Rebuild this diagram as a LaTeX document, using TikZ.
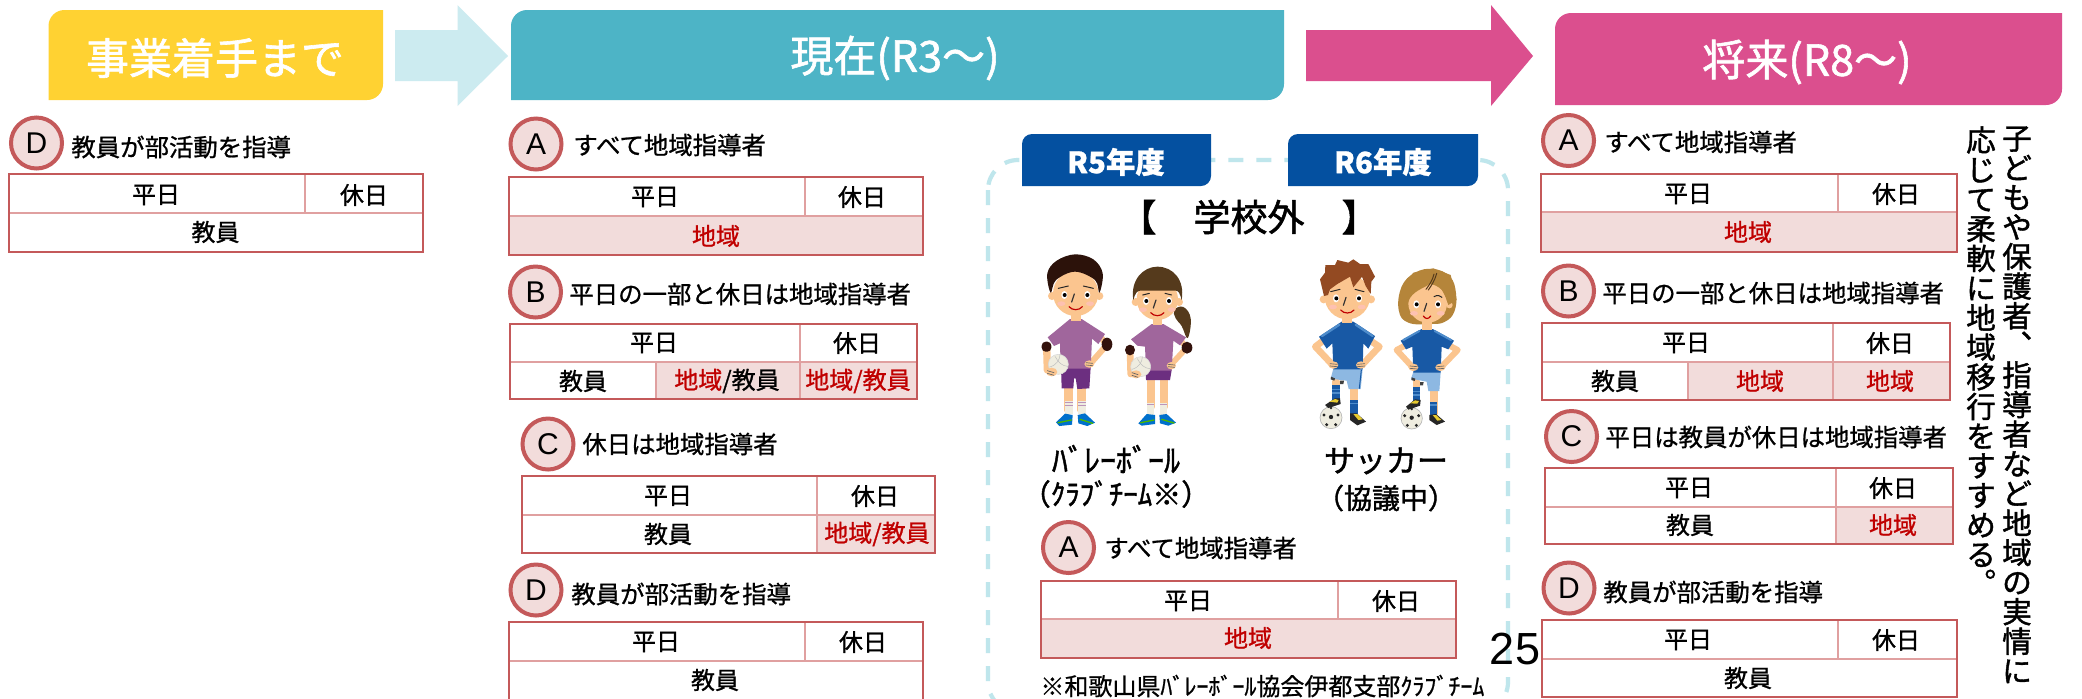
\documentclass[tikz,border=0pt]{standalone}
\usepackage{fontspec}
\usetikzlibrary{shapes.geometric}
\setmainfont[FakeBold=0.9]{Noto Sans CJK JP}
\newfontfamily\cjkm[FakeBold=1.4]{Noto Sans CJK JP}
\newfontfamily\arialf{Liberation Sans}
\definecolor{yel}{HTML}{FFD232}
\definecolor{teal1}{HTML}{4DB4C6}
\definecolor{pink1}{HTML}{DB4F8E}
\definecolor{ltblue}{HTML}{CCEBF0}
\definecolor{navy1}{HTML}{0450A0}
\definecolor{bord}{HTML}{C4595A}
\definecolor{inner1}{HTML}{E0A0A0}
\definecolor{cellf}{HTML}{F2DCDB}
\definecolor{redt}{HTML}{C00000}
\definecolor{skin}{HTML}{FBC58F}
\definecolor{purp}{HTML}{A0669C}
\definecolor{purpd}{HTML}{6C2F80}
\definecolor{padc}{HTML}{33120C}
\definecolor{hairb}{HTML}{2C120A}
\definecolor{hairg}{HTML}{553A1C}
\definecolor{hairr}{HTML}{934A22}
\definecolor{hairy}{HTML}{B5853A}
\definecolor{blues}{HTML}{1859A5}
\definecolor{bluel}{HTML}{8DB8E2}
\definecolor{bluem}{HTML}{4E8CCB}
\definecolor{ballc}{HTML}{EFEDE0}
\newcommand\fs[1]{\fontsize{#1}{#1}\selectfont}
\tikzset{
  badge/.style={ellipse,draw=bord,fill=cellf,line width=2pt,inner sep=0pt,minimum width=25.5pt,minimum height=25.5pt,font=\arialf\fs{15}},
  lab/.style={anchor=west,inner sep=0pt,font=\fs{12.2}},
  celltx/.style={inner sep=0pt,font=\fs{12}},
  redtx/.style={celltx,text=redt},
  innerl/.style={draw=inner1,line width=1pt},
  outerl/.style={draw=bord,line width=1.3pt},
  head/.style={inner sep=0pt,text=white,font=\cjkm\fs{21.5}},
  tabt/.style={inner sep=0pt,text=white,font=\bfseries\fs{14.7}},
  kw/.style={line width=#1*0.1667pt,line cap=round,line join=round},
  vtext/.style={anchor=north,inner sep=0pt,align=center,font=\cjkm\fs{14.8}},
  kidscope/.style={x=0.16667pt,y=-0.16667pt}
}
% one-corner rounded header box
\newcommand\tabrect[6]{\fill[#5] (#1,#4) [rounded corners=#6] -- (#1,#2) [sharp corners] -- (#3,#2) [rounded corners=#6] -- (#3,#4) [sharp corners] -- cycle;}
\newcommand\tblframe[6]{%
  \draw[innerl] (#1,#5) -- (#3,#5);
  \draw[innerl] (#6,#2) -- (#6,#5);
  \draw[outerl] (#1,#2) rectangle (#3,#4);}
% face: cx cy r, eye offset
\newcommand\kidface[3]{%
  \fill[skin] (#1-#3-3,#2+8) circle[radius=12];
  \fill[skin] (#1+#3+3,#2+8) circle[radius=12];
  \fill[skin] (#1,#2) circle[radius=#3];
  \fill[white] (#1-34,#2+5) ellipse[x radius=9,y radius=12];
  \fill[white] (#1+35,#2+5) ellipse[x radius=9,y radius=12];
  \fill[black] (#1-33,#2+5) circle[radius=6];
  \fill[black] (#1+35,#2+5) circle[radius=6];
  \fill[pink!70!skin] (#1-43,#2+31) ellipse[x radius=12,y radius=7];
  \fill[pink!70!skin] (#1+43,#2+31) ellipse[x radius=12,y radius=7];
  \draw[kw=3.5,black!80] (#1-4,#2+2) -- (#1-12,#2+26);
  \draw[kw=3.5,red!75!black] (#1-20,#2+40) .. controls (#1-10,#2+52) and (#1+10,#2+52) .. (#1+20,#2+40);
}
\newcommand\vball[3]{%
  \fill[ballc,draw=black!15,line width=.3pt] (#1,#2) circle[radius=#3];
  \draw[kw=1.5,black!25] (#1-#3+4,#2+8) .. controls (#1-5,#2+2) and (#1+5,#2-14) .. (#1+5,#2-#3);
  \draw[kw=1.5,black!25] (#1-10,#2-#3+6) .. controls (#1+0,#2-5) and (#1+12,#2+5) .. (#1+#3-2,#2+6);
}
\newcommand\sball[3]{%
  \fill[ballc,draw=black!30,line width=.3pt] (#1,#2) circle[radius=#3];
  \fill[black!85] (#1,#2-2) circle[radius=6.5];
  \fill[black!85] (#1-21,#2-8) circle[radius=5];
  \fill[black!85] (#1+21,#2-8) circle[radius=5];
  \fill[black!85] (#1-13,#2+21) circle[radius=5];
  \fill[black!85] (#1+14,#2+21) circle[radius=5];
  \fill[black!85] (#1,#2-#3+4) circle[radius=4];
}
\begin{document}
\begin{tikzpicture}[x=0.5pt,y=-0.5pt]
\useasboundingbox (0,0) rectangle (2082,698);
\clip (0,0) rectangle (2082,698);
\fill[white] (0,0) rectangle (2082,698);

% headers
\tabrect{48.5}{10}{383}{100}{yel}{8pt}
\node[head] (h1) at (215,58) {事業着手まで};
\fill[ltblue] (395,30) -- (457.5,30) -- (457.5,5) -- (508,56) -- (457.5,106) -- (457.5,81) -- (395,81) -- cycle;
\tabrect{511}{10}{1284}{100}{teal1}{8pt}
\node[head] (h2) at (895,58) {現在(R3～)};
\fill[pink1] (1306,30) -- (1491,30) -- (1491,5) -- (1533,56) -- (1491,106) -- (1491,81) -- (1306,81) -- cycle;
\tabrect{1555}{13}{2062}{105}{pink1}{8pt}
\node[head] (h3) at (1807,62) {将来(R8～)};

% left D
\node[badge] (d0) at (36.5,143) {D};
\node[lab] (d0t) at (71,147) {教員が部活動を指導};
\tblframe{9}{174}{423}{252}{213}{305}
\node[celltx] (d0a) at (156,195) {平日};
\node[celltx] (d0b) at (364,195) {休日};
\node[celltx] (d0c) at (215.5,232) {教員};

% centre A
\node[badge] (a1) at (536,144) {A};
\node[lab] (a1t) at (573,145) {すべて地域指導者};
\fill[cellf] (509,216) rectangle (923,255);
\tblframe{509}{177}{923}{255}{216}{805}
\node[celltx] (a1a) at (655,197) {平日};
\node[celltx] (a1b) at (862,197) {休日};
\node[redtx] (a1c) at (716,236) {地域};

% centre B
\node[badge] (b1) at (535.5,292) {B};
\node[lab] (b1t) at (569,294) {平日の一部と休日は地域指導者};
\fill[cellf] (656,362) rectangle (917,399);
\draw[innerl] (656,362) -- (656,399);
\draw[innerl] (800,362) -- (800,399);
\tblframe{510}{324}{917}{399}{362}{800}
\node[celltx] (b1a) at (654,343) {平日};
\node[celltx] (b1b) at (857,343) {休日};
\node[celltx] (b1c) at (583,381) {教員};
\node[celltx] (b1d) at (727,381) {\textcolor{redt}{地域}/教員};
\node[redtx] (b1e) at (858,381) {地域/教員};

% centre C
\node[badge] (c1) at (548,444) {C};
\node[lab] (c1t) at (582,444) {休日は地域指導者};
\fill[cellf] (817,515) rectangle (935,553);
\draw[innerl] (817,515) -- (817,553);
\tblframe{522}{476}{935}{553}{515}{817}
\node[celltx] (c1a) at (668,496) {平日};
\node[celltx] (c1b) at (875,496) {休日};
\node[celltx] (c1c) at (668,534) {教員};
\node[redtx] (c1d) at (877,534) {地域/教員};

% centre D
\node[badge] (d1) at (536,590) {D};
\node[lab] (d1t) at (571,594) {教員が部活動を指導};
\tblframe{509}{622}{923}{701}{661}{805}
\node[celltx] (d1a) at (656,642) {平日};
\node[celltx] (d1b) at (863,642) {休日};
\node[celltx] (d1c) at (715,680) {教員};

% dashed panel
\draw[draw=ltblue!90!teal1,line width=2.1pt,dash pattern=on 7.5pt off 6.5pt,rounded corners=15pt] (988,160) rectangle (1508,712);
\tabrect{1022}{134}{1211}{186}{navy1}{5pt}
\node[tabt] (r5) at (1116,162) {R5年度};
\tabrect{1288}{134}{1478}{186}{navy1}{5pt}
\node[tabt] (r6) at (1383,162) {R6年度};
\node[inner sep=0pt,font=\cjkm\fs{18.5}] (gk) at (1249,217) {【　学校外　】};

% volleyball children
\begin{scope}[shift={(1030,250)},kidscope]
  % boy
  \draw[skin,kw=26] (115,410) -- (115,480);
  \draw[skin,kw=26] (155,410) -- (155,480);
  \fill[ballc] (104,452) rectangle (128,492);
  \fill[ballc] (144,452) rectangle (168,492);
  \fill[purp!70] (104,456) rectangle (128,460); \fill[purp!70] (104,464) rectangle (128,468);
  \fill[purp!70] (144,456) rectangle (168,460); \fill[purp!70] (144,464) rectangle (168,468);
  \fill[blue!45!cyan!80!black] (78,517) -- (105,491) -- (128,495) -- (126,524) -- (88,528) -- cycle;
  \fill[blue!45!cyan!80!black] (143,495) -- (165,490) -- (195,518) -- (172,528) -- (145,520) -- cycle;
  \draw[kw=4,green!60!black!70!yellow] (84,518) -- (124,510);
  \draw[kw=4,green!60!black!70!yellow] (150,508) -- (188,520);
  \fill[purpd] (93,352) -- (182,352) -- (178,415) -- (142,417) -- (137,385) -- (132,385) -- (130,415) -- (95,415) -- cycle;
  \draw[skin,kw=22] (50,290) -- (52,360);
  \draw[skin,kw=18] (215,265) -- (230,285) -- (180,342);
  \fill[purp] (120,207) -- (155,207) -- (225,252) -- (205,282) -- (186,266) -- (182,356) -- (92,356) -- (90,280) -- (72,288) -- (53,262) -- cycle;
  \vball{85}{343}{30}
  \fill[skin] (65,366) ellipse[x radius=17,y radius=13];
  \fill[skin] (178,342) ellipse[x radius=15,y radius=11];
  \draw[kw=2,black!60] (52,362) -- (72,368) (52,370) -- (72,376);
  \draw[kw=2,black!60] (168,338) -- (188,340) (168,345) -- (188,347);
  \fill[padc,rounded corners=2pt] (35,275) rectangle (64,305);
  \fill[padc] (231,283) ellipse[x radius=16,y radius=20];
  \fill[skin] (122,190) rectangle (152,213);
  \kidface{137}{130}{68}
  \fill[hairb] plot[smooth cycle,tension=.6] coordinates {(62,128) (52,70) (80,32) (135,13) (190,28) (218,70) (208,128) (195,90) (135,65) (78,90)};
  \draw[kw=3,black!85] (85,115) -- (115,108) (160,108) -- (190,115);
  % girl
  \draw[skin,kw=24] (362,385) -- (362,470);
  \draw[skin,kw=24] (402,385) -- (402,470);
  \fill[ballc] (352,458) rectangle (373,497);
  \fill[ballc] (390,458) rectangle (412,497);
  \fill[purp!70] (352,461) rectangle (373,465); \fill[purp!70] (390,461) rectangle (412,465);
  \fill[blue!45!cyan!80!black] (325,520) -- (350,492) -- (375,495) -- (375,522) -- (335,527) -- cycle;
  \fill[blue!45!cyan!80!black] (388,495) -- (410,492) -- (438,518) -- (415,527) -- (390,520) -- cycle;
  \draw[kw=4,green!60!black!70!yellow] (332,518) -- (372,510);
  \draw[kw=4,green!60!black!70!yellow] (395,508) -- (432,519);
  \fill[purpd] (347,360) -- (425,360) -- (420,390) -- (348,390) -- cycle;
  \fill[hairg] plot[smooth cycle,tension=.7] coordinates {(433,180) (460,171) (482,205) (473,264) (455,228) (437,205)};
  \draw[skin,kw=20] (300,300) -- (302,372);
  \draw[skin,kw=17] (455,275) -- (470,293) -- (422,345);
  \fill[purp] (365,222) -- (400,222) -- (468,262) -- (450,286) -- (430,272) -- (425,362) -- (348,362) -- (345,290) -- (322,287) -- (303,268) -- cycle;
  \vball{332}{350}{30}
  \fill[skin] (318,373) ellipse[x radius=16,y radius=12];
  \fill[skin] (424,347) ellipse[x radius=14,y radius=11];
  \draw[kw=2,black!60] (306,368) -- (324,374) (306,376) -- (324,382);
  \draw[kw=2,black!60] (414,343) -- (434,345) (414,350) -- (434,352);
  \fill[padc] (300,300) ellipse[x radius=15,y radius=16];
  \fill[padc] (471,293) ellipse[x radius=16,y radius=18];
  \fill[skin] (368,205) rectangle (396,226);
  \kidface{382}{148}{62}
  \fill[hairg] (310,150) .. controls (300,90) and (340,50) .. (382,50) .. controls (430,50) and (465,90) .. (455,150) .. controls (450,130) and (445,122) .. (438,122) -- (330,122) .. controls (322,122) and (315,130) .. (310,150) -- cycle;
  \draw[kw=3,black!85] (338,135) -- (358,130) (405,130) -- (425,135);
\end{scope}

% soccer children
\begin{scope}[shift={(1300,250)},kidscope]
  % boy
  \draw[skin,kw=24] (108,395) -- (108,440);
  \draw[skin,kw=24] (162,410) -- (162,490);
  \fill[blues] (97,405) rectangle (120,450);
  \fill[bluem] (97,416) rectangle (120,421); \fill[bluem] (97,426) rectangle (120,431);
  \fill[blues] (151,450) rectangle (173,494);
  \fill[bluem] (151,458) rectangle (173,463);
  \sball{93}{503}{33}
  \fill[black!85] (75,465) -- (105,445) -- (120,445) -- (122,462) -- (85,474) -- cycle;
  \fill[yellow!60!brown] (88,455) -- (105,447) -- (116,450) -- (112,458) -- cycle;
  \fill[black!85] (150,490) -- (170,490) -- (198,515) -- (172,526) -- (150,510) -- cycle;
  \fill[yellow!60!brown] (160,492) -- (172,492) -- (188,508) -- (175,510) -- cycle;
  \fill[bluel] (100,356) -- (188,356) -- (182,417) -- (146,417) -- (140,392) -- (92,386) -- cycle;
  \draw[kw=3,blues] (184,360) -- (178,415);
  \fill[black!75] (93,380) -- (105,385) -- (103,392) -- (92,388) -- cycle;
  \fill[black!75] (120,392) -- (132,392) -- (130,402) -- (120,402) -- cycle;
  \draw[skin,kw=20,fill=none] (72,270) -- (46,290) -- (98,345);
  \draw[skin,kw=20,fill=none] (208,270) -- (238,290) -- (186,345);
  \fill[blues] (125,215) -- (160,215) -- (225,258) -- (205,296) -- (190,280) -- (188,358) -- (100,358) -- (97,280) -- (80,296) -- (57,260) -- cycle;
  \draw[kw=7,bluem] (66,258) -- (118,224) (167,224) -- (218,258);
  \fill[skin] (100,345) ellipse[x radius=15,y radius=11];
  \fill[skin] (183,345) ellipse[x radius=15,y radius=11];
  \draw[kw=2,black!60] (90,341) -- (112,343) (90,348) -- (112,350);
  \draw[kw=2,black!60] (172,343) -- (194,341) (172,350) -- (194,348);
  \fill[skin] (127,195) rectangle (157,220);
  \kidface{142}{140}{68}
  \fill[hairr] (72,138) -- (60,88) -- (75,68) -- (76,45) -- (105,45) -- (112,30) -- (145,38) -- (160,28) -- (180,42) -- (205,42) -- (225,80) -- (214,95) -- (212,132) -- (197,108) -- (186,80) -- (160,112) -- (150,80) -- (112,102) -- (90,118) -- (84,135) -- cycle;
  \draw[kw=3,black!85] (92,125) -- (120,118) (165,118) -- (192,125);
  % girl
  \draw[skin,kw=22] (350,395) -- (350,445);
  \draw[skin,kw=22] (402,415) -- (402,490);
  \fill[blues] (339,412) rectangle (360,455);
  \fill[bluem] (339,422) rectangle (360,427); \fill[bluem] (339,432) rectangle (360,437);
  \fill[blues] (391,455) rectangle (411,496);
  \fill[bluem] (391,463) rectangle (411,468);
  \sball{335}{505}{32}
  \fill[black!85] (318,470) -- (345,448) -- (362,450) -- (360,467) -- (325,479) -- cycle;
  \fill[yellow!60!brown] (330,460) -- (345,451) -- (357,453) -- (352,461) -- cycle;
  \fill[black!85] (388,495) -- (408,492) -- (435,515) -- (410,525) -- (388,510) -- cycle;
  \fill[yellow!60!brown] (398,495) -- (408,495) -- (424,510) -- (412,512) -- cycle;
  \fill[bluel] (340,365) -- (422,365) -- (418,423) -- (385,423) -- (380,395) -- (333,386) -- cycle;
  \fill[black!75] (335,382) -- (346,386) -- (344,393) -- (334,390) -- cycle;
  \fill[black!75] (360,396) -- (371,396) -- (369,406) -- (360,406) -- cycle;
  \draw[skin,kw=18] (318,285) -- (290,300) -- (338,352);
  \draw[skin,kw=18] (445,285) -- (473,300) -- (423,352);
  \fill[hairy] plot[smooth cycle,tension=.7] coordinates {(296,180) (305,110) (345,68) (400,57) (450,80) (468,130) (463,185) (435,215) (395,222) (325,218)};
  \fill[blues] (365,237) -- (398,237) -- (462,272) -- (445,298) -- (425,290) -- (422,368) -- (340,368) -- (337,290) -- (318,298) -- (302,272) -- cycle;
  \draw[kw=6,bluem] (310,270) -- (358,243) (404,243) -- (453,270);
  \fill[skin] (340,352) ellipse[x radius=15,y radius=11];
  \fill[skin] (421,352) ellipse[x radius=15,y radius=11];
  \draw[kw=2,black!60] (330,348) -- (352,350) (330,355) -- (352,357);
  \draw[kw=2,black!60] (410,350) -- (432,348) (410,357) -- (432,355);
  \fill[skin] (367,215) rectangle (395,240);
  \fill[skin] (448,165) circle[radius=10];
  \fill[skin] (383,160) circle[radius=58];
  \fill[white] (349,163) ellipse[x radius=9,y radius=12];
  \fill[white] (414,163) ellipse[x radius=9,y radius=12];
  \fill[black] (350,163) circle[radius=6];
  \fill[black] (414,163) circle[radius=6];
  \fill[pink!70!skin] (342,190) ellipse[x radius=12,y radius=7];
  \fill[pink!70!skin] (422,190) ellipse[x radius=12,y radius=7];
  \draw[kw=3.5,black!80] (380,160) -- (372,184);
  \draw[kw=3.5,red!75!black] (370,198) .. controls (376,208) and (386,208) .. (392,198);
  \draw[kw=3,black!85] (402,140) .. controls (412,134) and (420,136) .. (426,142);
  \fill[hairy] (322,175) .. controls (322,140) and (345,125) .. (372,112) .. controls (390,105) and (400,90) .. (405,75) .. controls (412,105) and (432,120) .. (445,165) -- (470,150) -- (452,75) -- (400,55) -- (340,68) -- (305,110) -- (300,170) -- cycle;
  \draw[kw=3,hairg] (410,70) .. controls (405,90) and (395,105) .. (385,120);
  \draw[kw=3,hairg] (402,72) .. controls (398,90) and (388,105) .. (378,118);
\end{scope}

\node[inner sep=0pt,font=\cjkm\fs{16}] (v1) at (1116,459) {ﾊﾞﾚｰﾎﾞｰﾙ};
\node[inner sep=0pt,font=\cjkm\fs{14.5}] (v2) at (1116,494) {（ｸﾗﾌﾞﾁｰﾑ※）};
\node[inner sep=0pt,font=\cjkm\fs{15.5}] (s1) at (1386,461) {サッカー};
\node[inner sep=0pt,font=\cjkm\fs{14}] (s2) at (1386,498) {（協議中）};

% panel A
\node[badge] (a2) at (1068.5,547.5) {A};
\node[lab] (a2t) at (1104,548) {すべて地域指導者};
\fill[cellf] (1041,619) rectangle (1456,658);
\tblframe{1041}{581}{1456}{658}{619}{1338}
\node[celltx] (a2a) at (1188,601) {平日};
\node[celltx] (a2b) at (1396,601) {休日};
\node[redtx] (a2c) at (1248,638) {地域};
\node[inner sep=0pt,anchor=west,font=\fs{12}] (fn) at (1040,686) {※和歌山県ﾊﾞﾚｰﾎﾞｰﾙ協会伊都支部ｸﾗﾌﾞﾁｰﾑ};
\node[inner sep=0pt,font=\arialf\fs{22.5}] (pg) at (1515,649) {25};

% right A
\node[badge] (a3) at (1568.5,140.5) {A};
\node[lab] (a3t) at (1604,142) {すべて地域指導者};
\fill[cellf] (1541,212) rectangle (1957,252);
\tblframe{1541}{174}{1957}{252}{212}{1838}
\node[celltx] (a3a) at (1688,194) {平日};
\node[celltx] (a3b) at (1896,194) {休日};
\node[redtx] (a3c) at (1748,232) {地域};

% right B
\node[badge] (b3) at (1568.5,291) {B};
\node[lab] (b3t) at (1602,293) {平日の一部と休日は地域指導者};
\fill[cellf] (1688,362) rectangle (1950,400);
\draw[innerl] (1688,362) -- (1688,400);
\draw[innerl] (1833,362) -- (1833,400);
\tblframe{1542}{323}{1950}{400}{362}{1833}
\node[celltx] (b3a) at (1686,343) {平日};
\node[celltx] (b3b) at (1890,343) {休日};
\node[celltx] (b3c) at (1615,381) {教員};
\node[redtx] (b3d) at (1760,381) {地域};
\node[redtx] (b3e) at (1890,381) {地域};

% right C
\node[badge] (c3) at (1571.5,436.5) {C};
\node[lab] (c3t) at (1605,437) {平日は教員が休日は地域指導者};
\fill[cellf] (1836,507) rectangle (1953,544);
\draw[innerl] (1836,507) -- (1836,544);
\tblframe{1545}{468}{1953}{544}{507}{1836}
\node[celltx] (c3a) at (1689,488) {平日};
\node[celltx] (c3b) at (1893,488) {休日};
\node[celltx] (c3c) at (1690,525) {教員};
\node[redtx] (c3d) at (1893,525) {地域};

% right D
\node[badge] (d3) at (1569,588) {D};
\node[lab] (d3t) at (1603,592) {教員が部活動を指導};
\tblframe{1542}{620}{1957}{697}{659}{1838}
\node[celltx] (d3a) at (1688,640) {平日};
\node[celltx] (d3b) at (1896,640) {休日};
\node[celltx] (d3c) at (1748,678) {教員};

% vertical text
\newcommand\vp[1]{\makebox[1em][l]{\hspace*{.62em}\smash{\raisebox{.62em}{#1}}}}
\node[vtext] (vt1) at (2017,126) {子\\ど\\も\\や\\保\\護\\者\\\vp{、}\\指\\導\\者\\な\\ど\\地\\域\\の\\実\\情\\に};
\node[vtext] (vt2) at (1981,126) {応\\じ\\て\\柔\\軟\\に\\地\\域\\移\\行\\を\\す\\す\\め\\る\\\vp{。}};
\end{tikzpicture}
\end{document}
